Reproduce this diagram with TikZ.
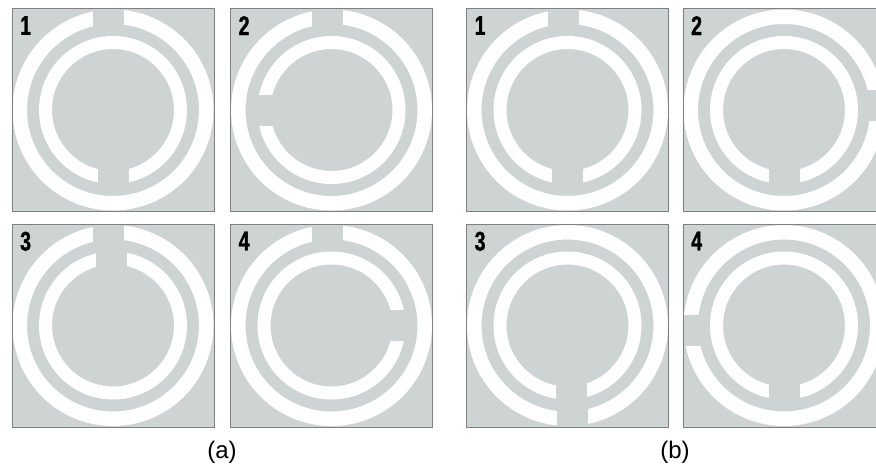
\documentclass[tikz,border=0pt]{standalone}
\usepackage{fontspec}
\setmainfont{Liberation Sans}
\newfontfamily\tagfamily[FakeStretch=0.72,FakeBold=1.2]{Liberation Sans Bold}
\definecolor{panelgray}{RGB}{206,212,211}
\definecolor{framegray}{RGB}{128,128,128}

\begin{document}
\begin{tikzpicture}[x=1pt,y=-1pt,
    panel/.style={fill=panelgray},
    frame/.style={draw=framegray,line width=0.9pt},
    ring/.style={fill=white,even odd rule},
    cut/.style={fill=panelgray},
    tag/.style={font=\tagfamily\fontsize{27}{27}\selectfont,anchor=north west,inner sep=0pt},
    caption/.style={font=\fontsize{24}{24}\selectfont},
    pics/outercut/.style={code={\fill[cut] (#1-15.5,-101.5) rectangle (#1+15.5,-79);}},
    pics/outercut/.default=-4.5,
    pics/innercut/.style={code={\fill[cut] (#1-15.5,-79) rectangle (#1+15.5,-50);}},
    pics/innercut/.default=0
]
\path[use as bounding box] (0,0) rectangle (876,469);
\begin{scope}
\clip (0,0) rectangle (876,469);
% grey tiles with two white rings each
\foreach \name/\cx/\cy in {a1/113/110, a2/331.5/110, a3/113/325.5, a4/331.5/325.5,
                           b1/567.5/110, b2/784/110, b3/567.5/325.5, b4/784/325.5}{
  \coordinate (\name) at (\cx,\cy);
  \fill[panel] (\cx-101,\cy-101.5) rectangle (\cx+101,\cy+101.5);
  \fill[ring] (\name) circle (100.5) circle (86);
  \fill[ring] (\name) circle (74) circle (61);
}
% (a): outer ring split at the top, inner split turns round
\pic at (a1) {outercut};
\pic[rotate=180] at (a1) {innercut};
\pic at (a2) {outercut};
\pic[rotate=90] at (a2) {innercut};
\pic at (a3) {outercut};
\pic at (a3) {innercut=-2};
\pic at (a4) {outercut};
\pic[rotate=-90] at (a4) {innercut};
% (b): inner ring split at the bottom, outer split turns round
\pic at (b1) {outercut};
\pic[rotate=180] at (b1) {innercut};
\pic[rotate=-90] at (b2) {outercut};
\pic[rotate=180] at (b2) {innercut};
\pic[rotate=180] at (b3) {outercut};
\pic[rotate=180] at (b3) {innercut=-3.5};
\pic[rotate=90] at (b4) {outercut};
\pic[rotate=180] at (b4) {innercut};
\foreach \name in {a1,a2,a3,a4,b1,b2,b3,b4}
  \draw[frame] ([shift={(-101,-101.5)}]\name) rectangle ([shift={(101,101.5)}]\name);
\end{scope}
\foreach \name/\num in {a1/1,a2/2,a3/3,a4/4,b1/1,b2/2,b3/3,b4/4}
  \node[tag] (tag-\name) at ([shift={(-93,-94)}]\name) {\num};
\node[caption] (cap-a) at (222,452) {(a)};
\node[caption] (cap-b) at (675,452) {(b)};
\end{tikzpicture}
\end{document}
